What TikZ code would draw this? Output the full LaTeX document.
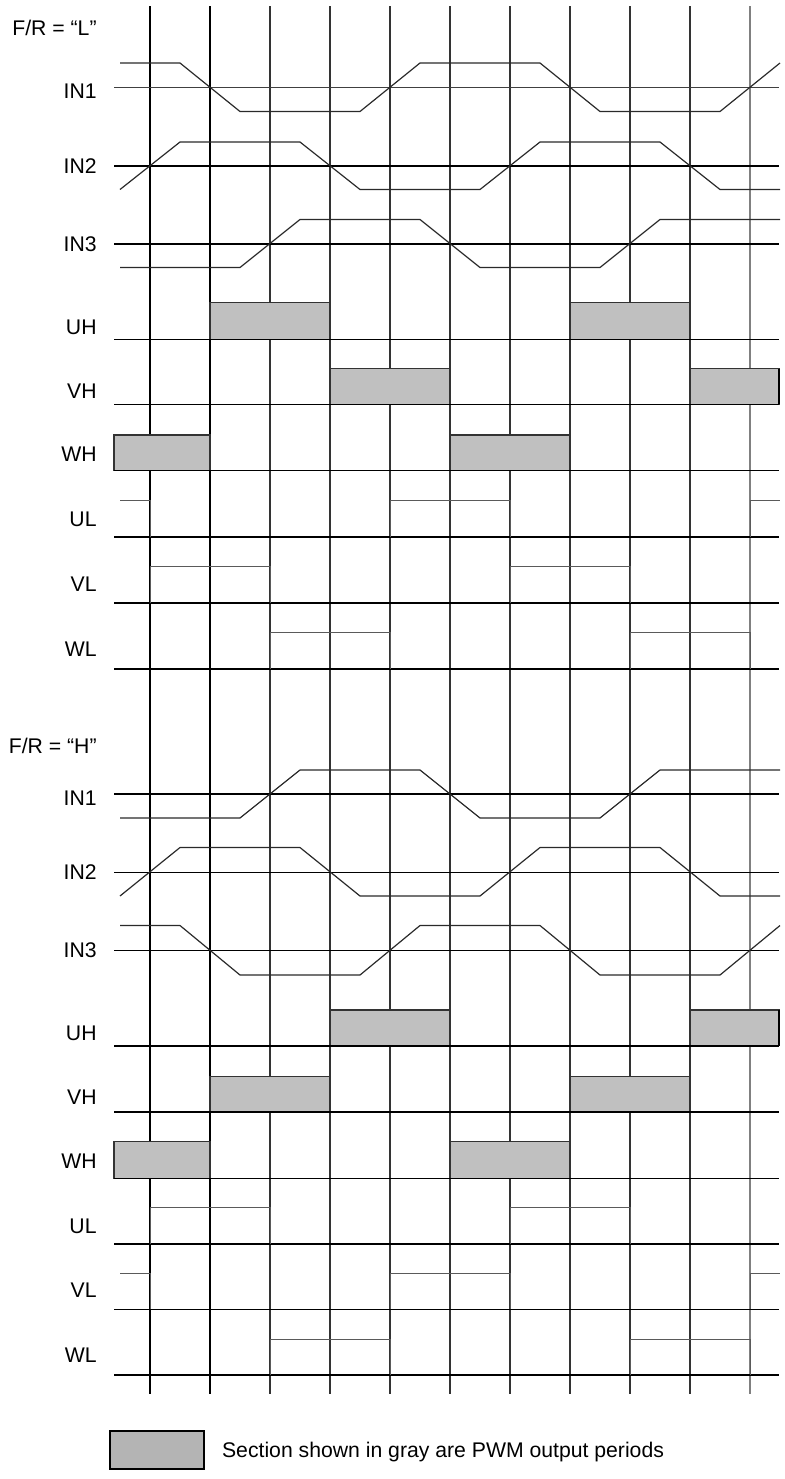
\documentclass[tikz,border=0pt]{standalone}
\usepackage{fontspec}
\setmainfont{Liberation Sans}
\usetikzlibrary{positioning}
\usepackage{xcolor}
\definecolor{PwmGray}{HTML}{C0C0C0}
\definecolor{KeyGray}{HTML}{B4B4B4}
\definecolor{TraceDark}{HTML}{2A2A2A}
\definecolor{PulseGray}{HTML}{5A5A5A}
\tikzset{
    % signal names on the left
    signame/.style={
        anchor=base east,
        inner sep=0pt,
        font=\fontsize{10.6}{12}\selectfont
    },
    % grid lines
    gridmain/.style={line width=0.85pt, draw=black},
    gridthin/.style={line width=0.55pt, draw=black!80},
    gridlast/.style={line width=0.55pt, draw=black!50},
    sigbase/.style={line width=0.8pt, draw=black},
    sigthin/.style={line width=0.55pt, draw=black!75},
    % waveforms
    trace/.style={line width=0.6pt, draw=TraceDark, line join=round},
    pulse/.style={line width=0.5pt, draw=PulseGray},
    pwm/.style={fill=PwmGray, draw=black!80, line width=0.6pt},
    keybox/.style={
        rectangle,
        fill=KeyGray,
        draw=black,
        line width=0.9pt,
        minimum width=47pt,
        minimum height=19.3pt,
        inner sep=0pt
    },
    keytext/.style={
        anchor=base west,
        inner sep=0pt,
        font=\fontsize{10.6}{12}\selectfont
    }
}
\begin{document}
\begin{tikzpicture}[x=0.5pt, y=-0.5pt]
    \useasboundingbox (0,0) rectangle (784,1479);

    % vertical grid
    \foreach \gx in {150,210} {
        \draw[gridmain] (\gx,6) -- (\gx,1394);
    }
    \foreach \gx in {270,330,...,690} {
        \draw[gridthin] (\gx,6) -- (\gx,1394);
    }
    \draw[gridlast] (750,6) -- (750,1394);

    % ---------- F/R = "L" ----------
    \node[signame] (frL) at (97,35) {F/R = “L”};
    \node[signame] (inAL) at (97,98.3) {IN1};
    \node[signame] (inBL) at (97,173.3) {IN2};
    \node[signame] (inCL) at (97,251) {IN3};
    \node[signame] (uhL) at (97,334) {UH};
    \node[signame] (vhL) at (97,398.3) {VH};
    \node[signame] (whL) at (97,461.7) {WH};
    \node[signame] (ulL) at (97,526.7) {UL};
    \node[signame] (vlL) at (97,591) {VL};
    \node[signame] (wlL) at (97,656) {WL};

    \draw[pwm] (210,302.7) rectangle (330,339.3);
    \draw[pwm] (570,302.7) rectangle (690,339.3);
    \draw[pwm] (330,368.7) rectangle (450,404.3);
    \draw[pwm] (690,368.7) rectangle (779,404.3);
    \draw[pwm] (114,435) rectangle (210,470.3);
    \draw[pwm] (450,435) rectangle (570,470.3);
    \draw[sigbase] (779,368.7) -- (779,404.3);

    \draw[sigthin] (114,87.3) -- (779,87.3);
    \foreach \by in {165.7,243.7,339.3,404.3,470.3,537,603,669} {
        \draw[sigbase] (114,\by) -- (779,\by);
    }

    \draw[trace] (120,63) -- (180,63) -- (240,111.5) -- (360,111.5) -- (420,63)
        -- (540,63) -- (600,111.5) -- (720,111.5) -- (780,63);
    \draw[trace] (120,189.5) -- (180,142) -- (300,142) -- (360,189.5) -- (480,189.5)
        -- (540,142) -- (660,142) -- (720,189.5) -- (780,189.5);
    \draw[trace] (120,267.5) -- (240,267.5) -- (300,219.5) -- (420,219.5) -- (480,267.5)
        -- (600,267.5) -- (660,219.5) -- (780,219.5);

    \draw[pulse] (120,500.7) -- (150,500.7) -- (150,537);
    \draw[pulse] (390,537) -- (390,500.7) -- (510,500.7) -- (510,537);
    \draw[pulse] (750,537) -- (750,500.7) -- (780,500.7);
    \draw[pulse] (150,603) -- (150,566) -- (270,566) -- (270,603);
    \draw[pulse] (510,603) -- (510,566) -- (630,566) -- (630,603);
    \draw[pulse] (270,669) -- (270,632.5) -- (390,632.5) -- (390,669);
    \draw[pulse] (630,669) -- (630,632.5) -- (750,632.5) -- (750,669);

    % ---------- F/R = "H" ----------
    \node[signame] (frH) at (97,753.3) {F/R = “H”};
    \node[signame] (inAH) at (97,805) {IN1};
    \node[signame] (inBH) at (97,879.8) {IN2};
    \node[signame] (inCH) at (97,957.5) {IN3};
    \node[signame] (uhH) at (97,1040.5) {UH};
    \node[signame] (vhH) at (97,1104.8) {VH};
    \node[signame] (whH) at (97,1168.2) {WH};
    \node[signame] (ulH) at (97,1233.2) {UL};
    \node[signame] (vlH) at (97,1297.5) {VL};
    \node[signame] (wlH) at (97,1362.5) {WL};

    \draw[pwm] (330,1010) rectangle (450,1045.7);
    \draw[pwm] (690,1010) rectangle (779,1045.7);
    \draw[pwm] (210,1076.3) rectangle (330,1111.7);
    \draw[pwm] (570,1076.3) rectangle (690,1111.7);
    \draw[pwm] (114,1141.7) rectangle (210,1178.3);
    \draw[pwm] (450,1141.7) rectangle (570,1178.3);
    \draw[sigbase] (779,1010) -- (779,1045.7);

    \foreach \by in {794,872.5,950.5,1045.7,1111.7,1178.3,1243.7,1309.3,1375} {
        \draw[sigbase] (114,\by) -- (779,\by);
    }

    \draw[trace] (120,818) -- (240,818) -- (300,770) -- (420,770) -- (480,818)
        -- (600,818) -- (660,770) -- (780,770);
    \draw[trace] (120,896) -- (180,847.5) -- (300,847.5) -- (360,896) -- (480,896)
        -- (540,847.5) -- (660,847.5) -- (720,896) -- (780,896);
    \draw[trace] (120,925.5) -- (180,925.5) -- (240,975) -- (360,975) -- (420,925.5)
        -- (540,925.5) -- (600,975) -- (720,975) -- (780,925.5);

    \draw[pulse] (150,1243.7) -- (150,1207.3) -- (270,1207.3) -- (270,1243.7);
    \draw[pulse] (510,1243.7) -- (510,1207.3) -- (630,1207.3) -- (630,1243.7);
    \draw[pulse] (120,1273.3) -- (150,1273.3) -- (150,1309.3);
    \draw[pulse] (390,1309.3) -- (390,1273.3) -- (510,1273.3) -- (510,1309.3);
    \draw[pulse] (750,1309.3) -- (750,1273.3) -- (780,1273.3);
    \draw[pulse] (270,1375) -- (270,1339.3) -- (390,1339.3) -- (390,1375);
    \draw[pulse] (630,1375) -- (630,1339.3) -- (750,1339.3) -- (750,1375);

    % legend
    \node[keybox] (key) at (157.2,1450) {};
    \node[keytext] (keynote) at (221.7,1457) {Section shown in gray are PWM output periods};
\end{tikzpicture}
\end{document}
